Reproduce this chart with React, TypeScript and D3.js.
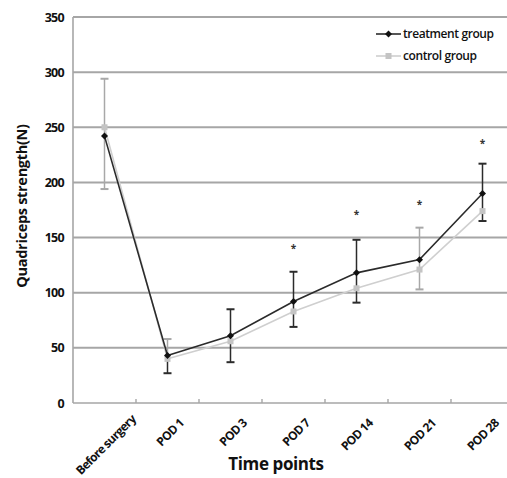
import React from "react";
import * as d3 from "d3";

const categories = ["Before surgery", "POD 1", "POD 3", "POD 7", "POD 14", "POD 21", "POD 28"];
const treatment = [242, 43, 61, 92, 118, 130, 190];
const control = [250, 40, 56, 83, 104, 121, 174];
const errHigh = [294, 58, 85, 119, 148, 159, 217];
const errLow = [194, 27, 37, 69, 91, 103, 165];
const errHighGroup = ["control", "control", "treatment", "treatment", "treatment", "control", "treatment"];
const errLowGroup = ["control", "treatment", "treatment", "treatment", "treatment", "control", "treatment"];
const stars: (number | null)[] = [null, null, null, 141, 172, 181, 237];
const yTicks = [0, 50, 100, 150, 200, 250, 300, 350];

const W = 507;
const H = 478;
const FONT = "'Open Sans', 'DejaVu Sans', sans-serif";
const DARK = "#2b2b2b";
const LIGHT = "#cfcfcf";
const GRID = "#a6a6a6";

export default function App() {
  const x = d3.scaleBand<string>().domain(categories).range([73, 514]).padding(0);
  const y = d3.scaleLinear().domain([0, 350]).range([403, 17]);
  const cx = (c: string) => (x(c) as number) + x.bandwidth() / 2;
  const line = d3
    .line<number>()
    .x((_, i) => cx(categories[i]))
    .y((d) => y(d));
  const col = (g: string) => (g === "treatment" ? DARK : "#a8a8a8");

  return (
    <svg width={W} height={H} style={{ position: "absolute", left: 0, top: 0, background: "#fff" }}>
      {/* grid */}
      {yTicks.map((t) => (
        <line key={t} x1={73} x2={W} y1={y(t)} y2={y(t)} stroke={GRID} strokeWidth={t === 0 ? 1.6 : 2} />
      ))}
      <line x1={73} x2={73} y1={y(350)} y2={y(0)} stroke={GRID} strokeWidth={1.6} />
      {/* x ticks at band boundaries */}
      {categories.slice(1).map((c) => (
        <line key={c} x1={x(c)} x2={x(c)} y1={y(0)} y2={y(0) - 4} stroke={GRID} strokeWidth={1.4} />
      ))}
      {/* y tick labels */}
      {yTicks.map((t) => (
        <text key={t} x={64} y={y(t) + 4.5} textAnchor="end" fontFamily={FONT} fontWeight={700} fontSize={12.5} fill="#111" letterSpacing={-0.7}>
          {t}
        </text>
      ))}
      {/* x labels */}
      {categories.map((c, i) => {
        const tx = cx(c) + (i === 0 ? 32 : 17);
        const ty = i === 0 ? 420 : 424;
        return (
          <text key={c} x={tx} y={ty} textAnchor="end" transform={`rotate(-45 ${tx} ${ty})`} fontFamily={FONT} fontWeight={700} fontSize={12} fill="#111" letterSpacing={-0.7}>
            {c}
          </text>
        );
      })}
      <text x={276} y={470} textAnchor="middle" fontFamily={FONT} fontWeight={700} fontSize={17} fill="#111" letterSpacing={-0.4}>
        Time points
      </text>
      <text x={0} y={0} transform="translate(27 206) rotate(-90)" textAnchor="middle" fontFamily={FONT} fontWeight={700} fontSize={14.5} fill="#111" letterSpacing={-0.3}>
        Quadriceps strength(N)
      </text>
      {/* error bars */}
      {categories.map((c, i) => {
        const px = cx(c);
        const mid = treatment[i];
        return (
          <g key={c}>
            <line x1={px} x2={px} y1={y(mid)} y2={y(errHigh[i])} stroke={col(errHighGroup[i])} strokeWidth={1.5} />
            <line x1={px - 4} x2={px + 4} y1={y(errHigh[i])} y2={y(errHigh[i])} stroke={col(errHighGroup[i])} strokeWidth={2} />
            <line x1={px} x2={px} y1={y(mid)} y2={y(errLow[i])} stroke={col(errLowGroup[i])} strokeWidth={1.5} />
            <line x1={px - 4} x2={px + 4} y1={y(errLow[i])} y2={y(errLow[i])} stroke={col(errLowGroup[i])} strokeWidth={2} />
          </g>
        );
      })}
      {/* control line */}
      <path d={line(control) || ""} fill="none" stroke={LIGHT} strokeWidth={1.6} />
      {control.map((v, i) => (
        <rect key={i} x={cx(categories[i]) - 3} y={y(v) - 3} width={6} height={6} fill="#c4c4c4" />
      ))}
      {/* treatment line */}
      <path d={line(treatment) || ""} fill="none" stroke={DARK} strokeWidth={1.6} />
      {treatment.map((v, i) => {
        const px = cx(categories[i]);
        const py = y(v);
        return <path key={i} d={`M${px},${py - 3.5}L${px + 3.5},${py}L${px},${py + 3.5}L${px - 3.5},${py}Z`} fill="#111" />;
      })}
      {/* significance stars */}
      {stars.map((s, i) =>
        s == null ? null : (
          <text key={i} x={cx(categories[i])} y={y(s) + 5} textAnchor="middle" fontFamily={FONT} fontSize={10} fontWeight={700} fill="#333">
            *
          </text>
        )
      )}
      {/* legend */}
      <line x1={376} x2={401} y1={34} y2={34} stroke={DARK} strokeWidth={1.6} />
      <path d="M388.5,30.5L392,34L388.5,37.5L385,34Z" fill="#111" />
      <text x={403} y={38} fontFamily={FONT} fontSize={12} fontWeight={600} fill="#111" letterSpacing={-0.4}>
        treatment group
      </text>
      <line x1={376} x2={401} y1={56} y2={56} stroke={LIGHT} strokeWidth={1.6} />
      <rect x={385.5} y={53} width={6} height={6} fill="#c4c4c4" />
      <text x={403} y={60} fontFamily={FONT} fontSize={12} fontWeight={600} fill="#111" letterSpacing={-0.4}>
        control group
      </text>
    </svg>
  );
}
